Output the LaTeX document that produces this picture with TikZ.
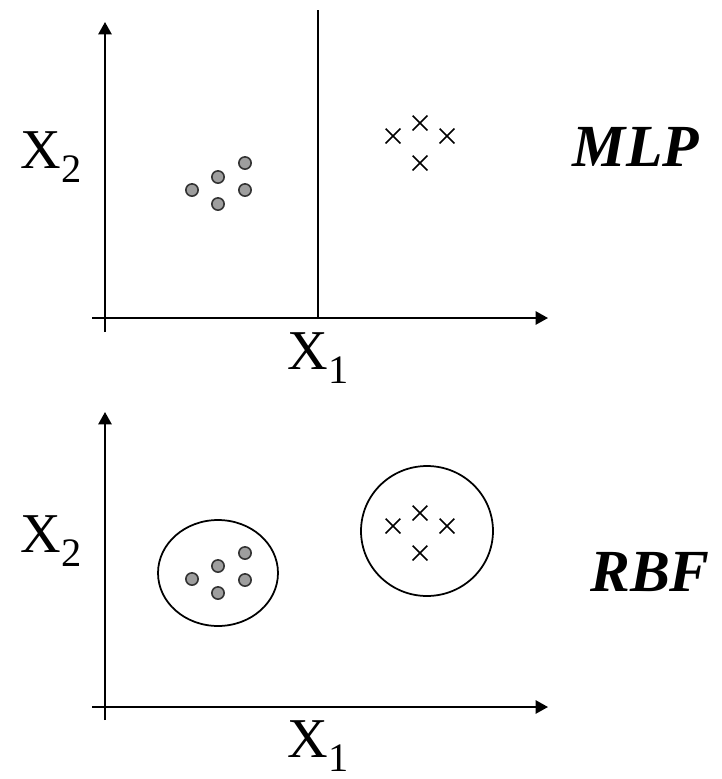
\documentclass[tikz,border=0pt]{standalone}
\usepackage{fontspec}
\setmainfont{LiberationSerif}[Extension=.ttf, UprightFont=*-Regular, BoldFont=*-Bold, ItalicFont=*-Italic, BoldItalicFont=*-BoldItalic]
\usetikzlibrary{arrows.meta, shapes.misc, shapes.geometric}
\newcommand{\axsub}[2]{#1\raisebox{-0.24em}{\fontsize{23}{23}\selectfont #2}}
\tikzset{
	axis/.style    ={line width=1.1pt, -{Triangle[length=7pt, width=7.5pt]}},
	border/.style  ={line width=1.1pt},
	region/.style  ={ellipse, draw=black, line width=1pt, inner sep=0pt},
	sample/.style  ={circle, draw=black!80, fill=black!38, line width=0.9pt, minimum size=7pt, inner sep=0pt},
	xsample/.style ={cross out, draw=black, line width=0.9pt, minimum size=7.5pt, inner sep=0pt},
	axlabel/.style ={font=\fontsize{32}{32}\selectfont},
	netname/.style ={font=\fontsize{34}{34}\selectfont\bfseries\itshape},
}
\begin{document}
\begin{tikzpicture}[x=0.02cm, y=-0.02cm]
	\useasboundingbox (0,0) rectangle (722,779);
	% MLP panel
	\coordinate (mx0) at (92,318);
	\coordinate (mx1) at (548,318);
	\coordinate (my0) at (105,332);
	\coordinate (my1) at (105,22);
	\coordinate (sepT) at (318,10);
	\coordinate (sepB) at (318,318);
	\draw[axis] (mx0) -- (mx1);
	\draw[axis] (my0) -- (my1);
	\draw[border] (sepT) -- (sepB);
	\node[axlabel] (mlab2) at (51,157) {\axsub{X}{2}};
	\node[axlabel] (mlab1) at (318,358) {\axsub{X}{1}};
	\node[netname] (mlp) at (636,147) {MLP};
	\node[sample] (ma1) at (192,190) {};
	\node[sample] (ma2) at (218,177) {};
	\node[sample] (ma3) at (218,204) {};
	\node[sample] (ma4) at (245,163) {};
	\node[sample] (ma5) at (245,190) {};
	\node[xsample] (mb1) at (393,136) {};
	\node[xsample] (mb2) at (420,123) {};
	\node[xsample] (mb3) at (447,136) {};
	\node[xsample] (mb4) at (420,163) {};
	% RBF panel
	\coordinate (rx0) at (92,707);
	\coordinate (rx1) at (548,707);
	\coordinate (ry0) at (105,720);
	\coordinate (ry1) at (105,412);
	\draw[axis] (rx0) -- (rx1);
	\draw[axis] (ry0) -- (ry1);
	\node[axlabel] (rlab2) at (51,541) {\axsub{X}{2}};
	\node[axlabel] (rlab1) at (318,746) {\axsub{X}{1}};
	\node[netname] (rbf) at (650,572) {RBF};
	\node[region, minimum width=2.4cm, minimum height=2.12cm] (ca) at (218,573) {};
	\node[region, minimum width=2.64cm, minimum height=2.6cm] (cb) at (427,531) {};
	\node[sample] (ra1) at (192,579) {};
	\node[sample] (ra2) at (218,566) {};
	\node[sample] (ra3) at (218,593) {};
	\node[sample] (ra4) at (245,553) {};
	\node[sample] (ra5) at (245,580) {};
	\node[xsample] (rb1) at (393,526) {};
	\node[xsample] (rb2) at (420,513) {};
	\node[xsample] (rb3) at (447,526) {};
	\node[xsample] (rb4) at (420,553) {};
\end{tikzpicture}
\end{document}
